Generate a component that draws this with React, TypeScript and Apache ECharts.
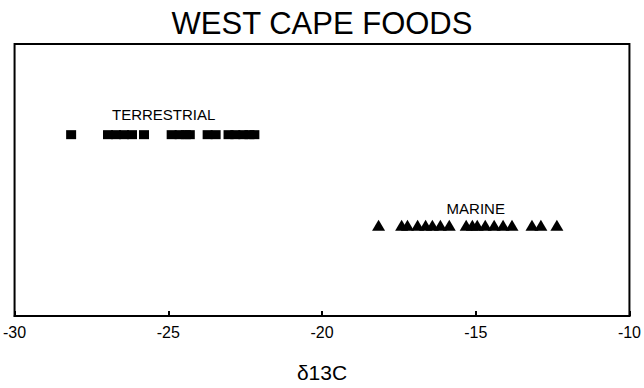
import React, { useEffect, useRef } from "react";
import * as echarts from "echarts";

const terrestrialX = [
  -28.16, -26.96, -26.7, -26.44, -26.18, -25.79, -24.89, -24.63, -24.43, -24.3,
  -23.72, -23.46, -23.04, -22.82, -22.56, -22.36, -22.2,
];
const marineX = [
  -18.16, -17.41, -17.22, -16.89, -16.63, -16.41, -16.15, -15.86, -15.31, -15.11,
  -14.95, -14.69, -14.4, -14.11, -13.82, -13.17, -12.88, -12.36,
];
const terrestrialLevel = 2;
const marineLevel = 1;
const xTicks = [-30, -25, -20, -15, -10];
const groupLabels = [
  { name: "TERRESTRIAL", x: -25.15, y: terrestrialLevel },
  { name: "MARINE", x: -15.0, y: marineLevel },
];

const FONT = "'Liberation Sans', Arial, Helvetica, sans-serif";

export default function App() {
  const ref = useRef<HTMLDivElement>(null);
  useEffect(() => {
    if (!ref.current) return;
    const chart = echarts.init(ref.current, undefined, { renderer: "svg" });
    chart.setOption({
      animation: false,
      backgroundColor: "#fff",
      title: {
        text: "WEST CAPE FOODS",
        left: "center",
        top: 3,
        textStyle: { fontFamily: FONT, fontSize: 31, fontWeight: "normal", color: "#000" },
      },
      grid: {
        left: 14,
        right: 12,
        top: 44,
        bottom: 64,
        show: true,
        borderColor: "#000",
        borderWidth: 2,
        backgroundColor: "transparent",
      },
      xAxis: {
        type: "value",
        min: xTicks[0],
        max: xTicks[xTicks.length - 1],
        interval: 5,
        name: "δ13C",
        nameLocation: "middle",
        nameGap: 46,
        nameTextStyle: { fontFamily: FONT, fontSize: 21, color: "#000" },
        axisLine: { show: true, lineStyle: { color: "#000", width: 2 } },
        axisTick: { show: true, inside: true, length: 5, lineStyle: { color: "#000", width: 2 } },
        axisLabel: { fontFamily: FONT, fontSize: 16, color: "#000", margin: 8 },
        splitLine: { show: false },
      },
      yAxis: {
        type: "value",
        min: 0,
        max: 3,
        show: false,
        splitLine: { show: false },
      },
      series: [
        {
          name: "Terrestrial",
          type: "scatter",
          symbol: "rect",
          symbolSize: [10, 9],
          itemStyle: { color: "#000", opacity: 1 },
          data: terrestrialX.map((x) => [x, terrestrialLevel]),
          markPoint: {
            symbol: "circle",
            symbolSize: 0,
            data: [
              {
                coord: [groupLabels[0].x, groupLabels[0].y],
                label: {
                  show: true,
                  formatter: groupLabels[0].name,
                  offset: [0, -20],
                  color: "#000",
                  fontFamily: FONT,
                  fontSize: 15,
                },
              },
            ],
          },
        },
        {
          name: "Marine",
          type: "scatter",
          symbol: "triangle",
          symbolSize: [13, 11],
          itemStyle: { color: "#000", opacity: 1 },
          data: marineX.map((x) => [x, marineLevel]),
          markPoint: {
            symbol: "circle",
            symbolSize: 0,
            data: [
              {
                coord: [groupLabels[1].x, groupLabels[1].y],
                label: {
                  show: true,
                  formatter: groupLabels[1].name,
                  offset: [0, -17],
                  color: "#000",
                  fontFamily: FONT,
                  fontSize: 15,
                },
              },
            ],
          },
        },
      ],
    });
    return () => chart.dispose();
  }, []);
  return <div ref={ref} style={{ width: 644, height: 388, position: "absolute", left: 0, top: 0 }} />;
}
